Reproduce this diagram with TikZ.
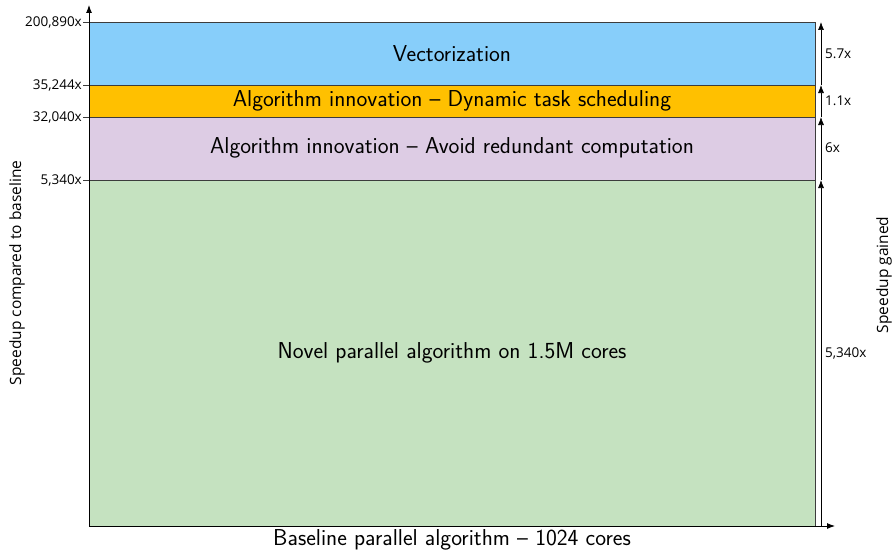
\documentclass[tikz,border=0pt]{standalone}
\usepackage{fontspec}
\newfontfamily\labelfont{Open Sans}
\usetikzlibrary{arrows.meta}
\definecolor{vecblue}{RGB}{135,206,250}
\definecolor{schedorange}{RGB}{255,192,0}
\definecolor{avoidpurple}{RGB}{221,204,228}
\definecolor{novelgreen}{RGB}{197,226,192}
\definecolor{edgegray}{RGB}{60,60,60}
\begin{document}
\begin{tikzpicture}[x=1pt,y=-1pt,
  font=\sffamily,
  bar/.style={draw=edgegray, line width=0.8pt},
  barlabel/.style={font=\sffamily\fontsize{23}{25}\selectfont},
  ticklabel/.style={anchor=east, inner sep=0pt, font=\labelfont\fontsize{13.5}{15}\selectfont},
  gainlabel/.style={anchor=west, inner sep=0pt, font=\labelfont\fontsize{13.5}{15}\selectfont},
  axislabel/.style={font=\labelfont\fontsize{15.5}{17}\selectfont},
  axis/.style={draw=black, line width=0.9pt, -{Latex[length=8pt,width=6pt]}},
  gain/.style={draw=black, line width=0.7pt, -{Latex[length=8pt,width=6pt]}}
]
\useasboundingbox (0,0) rectangle (896,551);

% stacked bars
\path[bar, fill=novelgreen] (89,180) rectangle (815,526);
\path[bar, fill=avoidpurple] (89,117) rectangle (815,180);
\path[bar, fill=schedorange] (89,85) rectangle (815,117);
\path[bar, fill=vecblue] (89,22) rectangle (815,85);

\node[barlabel] (vec) at (452,54) {Vectorization};
\node[barlabel] (sched) at (452,101) {Algorithm innovation -- Dynamic task scheduling};
\node[barlabel] (avoid) at (452,148) {Algorithm innovation -- Avoid redundant computation};
\node[barlabel] (novel) at (452,353) {Novel parallel algorithm on 1.5M cores};

% axes
\coordinate (origin) at (89,526);
\coordinate (ytip) at (89,5);
\coordinate (xtip) at (835,526);
\draw[axis] (origin) -- (ytip);
\draw[axis] (origin) -- (xtip);

% tick marks and labels
\foreach \y/\lab in {22/{200,890x},85/{35,244x},117/{32,040x},180/{5,340x}}{
  \draw[edgegray, line width=0.8pt] (83,\y) -- (89,\y);
  \node[ticklabel] at (82,\y) {\lab};
}

% gains per step
\coordinate (g0) at (821,526);
\coordinate (g1) at (821,180);
\coordinate (g2) at (821,117);
\coordinate (g3) at (821,85);
\coordinate (g4) at (821,22);
\draw[gain] (g0) -- (g1);
\draw[gain] (g1) -- (g2);
\draw[gain] (g2) -- (g3);
\draw[gain] (g3) -- (g4);
\node[gainlabel] (l1) at (825,353) {5,340x};
\node[gainlabel] (l2) at (825,148) {6x};
\node[gainlabel] (l3) at (825,101) {1.1x};
\node[gainlabel] (l4) at (825,54) {5.7x};

% axis titles
\node[axislabel, rotate=90] (ylab) at (17,273) {Speedup compared to baseline};
\node[axislabel, rotate=90] (glab) at (884,275) {Speedup gained};
\node[barlabel] (xlab) at (452,540) {Baseline parallel algorithm -- 1024 cores};
\end{tikzpicture}
\end{document}
